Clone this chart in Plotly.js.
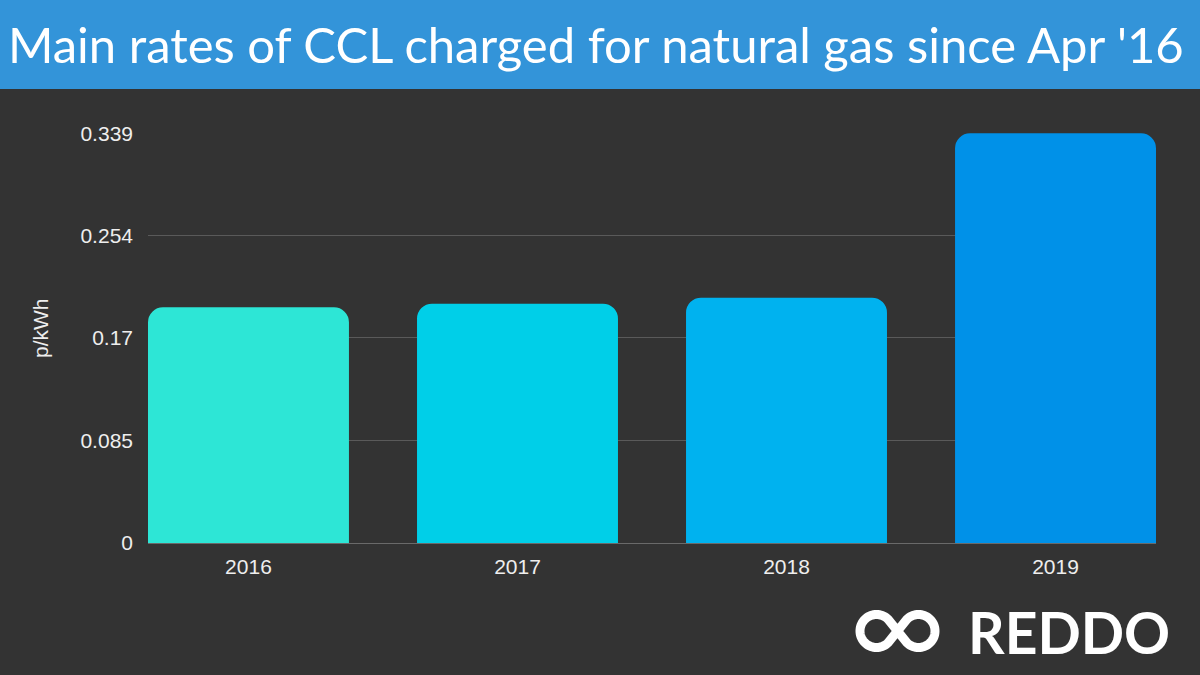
<!DOCTYPE html>
<html>
<head>
<meta charset="utf-8">
<script src="https://cdn.plot.ly/plotly-3.0.1.min.js"></script>
<style>
  html, body { margin: 0; padding: 0; background: #333333; }
  #chart { width: 1200px; height: 675px; }
</style>
</head>
<body>
<div id="chart"></div>
<script>
// Data
const years = ['2016', '2017', '2018', '2019'];
const rates = [0.195, 0.198, 0.203, 0.339];
const barColors = ['#2de6d6', '#00cfe8', '#00b2ef', '#0091e8'];
const yTickVals = [0, 0.085, 0.17, 0.254, 0.339];
const yTickText = ['0', '0.085', '0.17', '0.254', '0.339'];
const chartTitle = "Main rates of CCL charged for natural gas since Apr '16";
const yTitle = 'p/kWh';
const brand = 'REDDO';

// Layout geometry (pixels)
const W = 1200, H = 675;
const L = 148, R = 44, T = 133, B = 132;
const plotH = H - T - B;
const plotW = W - L - R;
const py = p => (H - B - p) / plotH;      // pixel y -> paper y
const px = p => (p - L) / plotW;          // pixel x -> paper x

const barWidthFrac = 0.747;

// Infinity logo outline (figure-eight) built as a path in paper coordinates
function infinityPath(cx1, cx2, cy, r) {
  const pts = [];
  const k = Math.SQRT1_2 * r;
  // right loop: from upper-left (135deg) clockwise over top, right side, to lower-left (225deg)
  for (let a = 135; a >= -135; a -= 5) {
    const t = a * Math.PI / 180;
    pts.push([cx2 + r * Math.cos(t), cy - r * Math.sin(t)]);
  }
  // left loop: from upper-right (45deg) counterclockwise over top, left, bottom to lower-right (-45deg)
  for (let a = 45; a <= 315; a += 5) {
    const t = a * Math.PI / 180;
    pts.push([cx1 + r * Math.cos(t), cy - r * Math.sin(t)]);
  }
  return 'M ' + pts.map(p => px(p[0]).toFixed(5) + ',' + py(p[1]).toFixed(5)).join(' L ') + ' Z';
}

const trace = {
  type: 'bar',
  x: years,
  y: rates,
  width: barWidthFrac,
  marker: { color: barColors, cornerradius: 15, line: { width: 0 } },
  hoverinfo: 'x+y'
};

const tickFont = { family: 'Liberation Sans, Arial, sans-serif', size: 21, color: '#eeeeee' };

const layout = {
  width: W, height: H,
  paper_bgcolor: '#333333',
  plot_bgcolor: '#333333',
  margin: { l: L, r: R, t: T, b: B, pad: 0 },
  showlegend: false,
  xaxis: {
    type: 'category',
    range: [-barWidthFrac / 2, 3 + barWidthFrac / 2],
    showgrid: false,
    zeroline: false,
    showline: false,
    ticks: '',
    tickfont: tickFont,
    ticklabelstandoff: 9,
    fixedrange: true
  },
  yaxis: {
    range: [0, 0.3392],
    tickvals: yTickVals,
    ticktext: yTickText,
    showgrid: true,
    gridcolor: '#5a5a5a',
    gridwidth: 1,
    zeroline: true,
    zerolinecolor: '#6a6a6a',
    zerolinewidth: 1,
    showline: false,
    ticks: '',
    tickfont: tickFont,
    ticklabelstandoff: 14,
    fixedrange: true
  },
  shapes: [
    {
      type: 'rect', xref: 'paper', yref: 'paper',
      x0: px(0), x1: px(W), y0: py(89), y1: py(0),
      fillcolor: '#3394d9', line: { width: 0 }, layer: 'below'
    },
    {
      type: 'path', xref: 'paper', yref: 'paper',
      path: infinityPath(876.5, 918.5, 631, 16.5),
      line: { color: '#ffffff', width: 9 },
      fillcolor: 'rgba(0,0,0,0)'
    }
  ],
  annotations: [
    {
      text: chartTitle, xref: 'paper', yref: 'paper',
      x: px(596), y: py(44), xanchor: 'center', yanchor: 'middle',
      showarrow: false,
      font: { family: 'Lato, sans-serif', size: 49, color: '#ffffff' }
    },
    {
      text: yTitle, xref: 'paper', yref: 'paper',
      x: px(40), y: py(328), xanchor: 'center', yanchor: 'middle',
      textangle: -90, showarrow: false,
      font: tickFont
    },
    {
      text: '<b>' + brand + '</b>', xref: 'paper', yref: 'paper',
      x: px(1069), y: py(632), xanchor: 'center', yanchor: 'middle',
      showarrow: false,
      font: { family: 'Lato, sans-serif', size: 57, color: '#ffffff' }
    }
  ]
};

Plotly.newPlot('chart', [trace], layout, { displayModeBar: false, staticPlot: true });
</script>
</body>
</html>
